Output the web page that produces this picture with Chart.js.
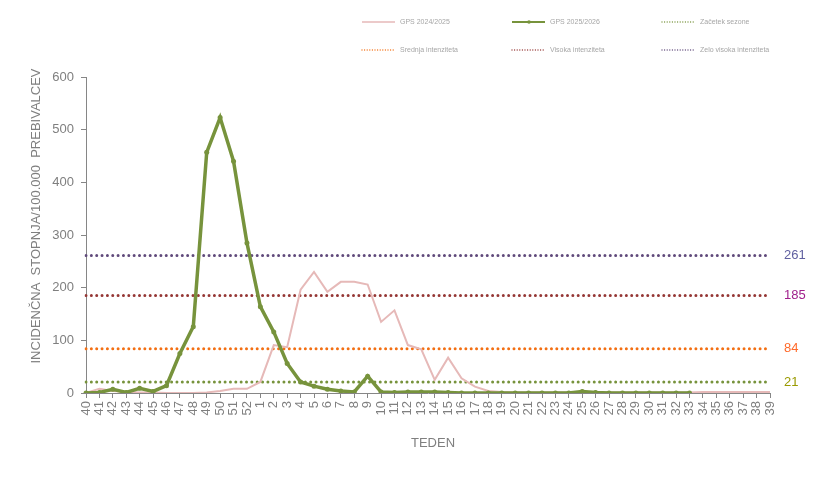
<!DOCTYPE html>
<html>
<head>
<meta charset="utf-8">
<script src="https://cdn.jsdelivr.net/npm/chart.js@4/dist/chart.umd.min.js"></script>
<style>
  html, body { margin: 0; padding: 0; background: #fff; }
  #wrap { width: 832px; height: 487px; }
</style>
</head>
<body>
<div id="wrap"><canvas id="graf" width="832" height="487"></canvas></div>
<script>
// tedni sezone 40..52, 1..39
const tedni = ['40','41','42','43','44','45','46','47','48','49','50','51','52',
  '1','2','3','4','5','6','7','8','9','10','11','12','13','14','15','16','17','18','19','20',
  '21','22','23','24','25','26','27','28','29','30','31','32','33','34','35','36','37','38','39'];

// GPS 2024/2025 – cela sezona
const gps2425 = [0, 8, 4, 2, 1, 1, 0, 0, 0, 1, 4, 8, 8,
  21, 91, 87, 196, 230, 192, 211, 211, 206, 135, 157, 91, 83, 25, 67, 28, 12, 4, 2, 1,
  1, 1, 1, 1, 1, 1, 1, 1, 1, 1, 1, 1, 1, 2, 2, 2, 2, 2, 2];

// GPS 2025/2026 – do tedna 33
const gps2526 = [0, 1, 7, 1, 9, 3, 14, 75, 126, 457, 523, 440, 285,
  164, 116, 56, 21, 13, 7, 4, 2, 32, 2, 1, 2, 2, 2, 1, 0, 0, 0, 0, 0,
  0, 0, 0, 0, 3, 1, 0, 0, 0, 0, 0, 0, 0];

// pragovi intenzitete
const pragNazivi = ['Začetek sezone', 'Srednja intenziteta', 'Visoka intenziteta', 'Zelo visoka intenziteta'];
const pragVrednosti = [21, 84, 185, 261];
const pragBarve = ['#77933c', '#f36f13', '#953735', '#604a7b'];
const pragBarveNapis = ['#9a9a00', '#ff6a2a', '#a0208c', '#6060a0'];

const yTicks = [0, 100, 200, 300, 400, 500, 600];

const FONT = "'Liberation Sans', Arial, sans-serif";
const SIVA = '#7f7f7f';

const datasets = [
  {
    label: 'GPS 2025/2026', data: gps2526, order: 1,
    borderColor: '#77933c', backgroundColor: '#77933c', borderWidth: 3.5,
    pointRadius: 2.5, pointHoverRadius: 3, pointBorderWidth: 0, tension: 0
  },
  {
    label: 'GPS 2024/2025', data: gps2425, order: 2,
    borderColor: '#e6b9b8', backgroundColor: '#e6b9b8', borderWidth: 2,
    pointRadius: 0, tension: 0
  }
];
pragVrednosti.forEach((v, i) => {
  datasets.push({
    label: pragNazivi[i], data: tedni.map(() => v), order: 3,
    borderColor: pragBarve[i], borderWidth: 3, borderDash: [0, 5.35],
    borderCapStyle: 'round', pointRadius: 0, tension: 0, prag: true
  });
});

// legenda v 3 stolpcih, 2 vrsti
const legendaVrstniRed = ['GPS 2024/2025', 'GPS 2025/2026', 'Začetek sezone',
  'Srednja intenziteta', 'Visoka intenziteta', 'Zelo visoka intenziteta'];

const legendaPlugin = {
  id: 'legenda',
  afterDraw(chart) {
    const ctx = chart.ctx;
    ctx.save();
    legendaVrstniRed.forEach((ime, k) => {
      const ds = chart.data.datasets.find(d => d.label === ime);
      const x0 = 362 + (k % 3) * 150;
      const y0 = k < 3 ? 22 : 50;
      ctx.strokeStyle = ds.borderColor;
      ctx.lineCap = ds.prag ? 'round' : 'butt';
      ctx.lineWidth = ds.prag ? 1.3 : (ime === 'GPS 2025/2026' ? 2 : 1.5);
      ctx.setLineDash(ds.prag ? [0, 2.6] : []);
      ctx.beginPath();
      ctx.moveTo(x0, y0);
      ctx.lineTo(x0 + 33, y0);
      ctx.stroke();
      ctx.setLineDash([]);
      if (ime === 'GPS 2025/2026') {
        ctx.fillStyle = ds.borderColor;
        ctx.beginPath();
        ctx.arc(x0 + 17, y0, 1.8, 0, Math.PI * 2);
        ctx.fill();
      }
      ctx.fillStyle = '#a6a6a6';
      ctx.font = '7px ' + FONT;
      ctx.textBaseline = 'middle';
      ctx.textAlign = 'left';
      ctx.fillText(ime, x0 + 38, y0);
    });
    ctx.restore();
  }
};

// napisi pragov na desni + naslova osi
const napisiPlugin = {
  id: 'napisi',
  afterDraw(chart) {
    const ctx = chart.ctx;
    const y = chart.scales.y;
    ctx.save();
    ctx.font = '13px ' + FONT;
    ctx.textBaseline = 'middle';
    ctx.textAlign = 'left';
    pragVrednosti.forEach((v, i) => {
      ctx.fillStyle = pragBarveNapis[i];
      ctx.fillText(String(v), 784, y.getPixelForValue(v));
    });

    ctx.fillStyle = SIVA;
    ctx.textAlign = 'center';
    ctx.fillText('TEDEN', 433, 443);

    ctx.translate(36, 216);
    ctx.rotate(-Math.PI / 2);
    ctx.fillText('INCIDENČNA  STOPNJA/100.000  PREBIVALCEV', 0, 0);
    ctx.restore();
  }
};

new Chart(document.getElementById('graf'), {
  type: 'line',
  data: { labels: tedni, datasets: datasets },
  options: {
    responsive: false,
    animation: false,
    devicePixelRatio: 1,
    layout: { padding: { top: 77, right: 62, left: 0, bottom: 0 } },
    plugins: { legend: { display: false }, tooltip: { enabled: false } },
    scales: {
      x: {
        offset: false,
        grid: { display: true, drawOnChartArea: false, drawTicks: true, tickLength: 5, color: '#868686' },
        border: { display: true, color: '#868686', width: 1 },
        ticks: {
          autoSkip: false, minRotation: 90, maxRotation: 90, padding: 3,
          color: SIVA, font: { family: FONT, size: 13 }
        },
        afterFit(scale) { scale.height = 94; }
      },
      y: {
        min: 0, max: 600,
        afterBuildTicks(scale) { scale.ticks = yTicks.map(v => ({ value: v })); },
        grid: { display: true, drawOnChartArea: false, drawTicks: true, tickLength: 5, color: '#868686' },
        border: { display: true, color: '#868686', width: 1 },
        ticks: { padding: 7, color: SIVA, font: { family: FONT, size: 13 } },
        afterFit(scale) { scale.width = 86; }
      }
    }
  },
  plugins: [legendaPlugin, napisiPlugin]
});
</script>
</body>
</html>
